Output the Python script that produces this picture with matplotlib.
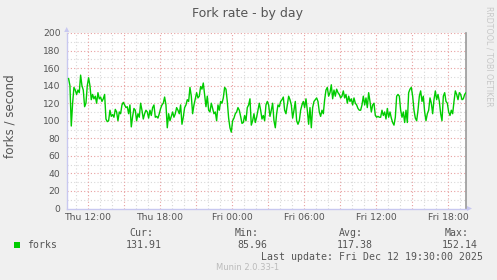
import matplotlib
matplotlib.use("Agg")
import matplotlib.pyplot as plt
import matplotlib.dates as mdates
from matplotlib.patches import Rectangle
from datetime import datetime, timedelta

# ---- data ----
forks_part1 = [148, 140, 94, 120, 138, 135, 130, 135, 132, 152, 140, 135, 116, 120, 140, 149,
               140, 124, 130, 125, 128, 120, 132, 125, 127, 122, 125, 130, 102, 99, 100, 112,
               105, 107, 104, 113, 110, 100, 110, 108, 118, 121, 118, 115, 116, 108, 118, 93,
               105, 114, 112, 100, 108, 104, 120, 112, 102, 108, 112, 110, 103, 112, 106, 115,
               118, 104, 105, 103, 108, 114, 118, 120, 127, 118, 92, 108, 100, 105, 110, 104,
               108, 115, 112, 108, 118, 96, 104, 115, 118, 124, 122, 138, 128, 108, 118, 125,
               132, 126, 128, 139, 136, 143, 130, 116, 128, 112, 110, 120, 114, 108, 110, 100,
               118, 112, 122, 120, 126, 138, 136, 122, 103, 92, 87, 100, 103, 108, 110, 115,
               112, 105, 97, 98, 106, 100, 115, 118, 125]
forks_part2 = [95, 100, 108, 98, 104, 112, 120, 112, 102, 106, 100, 118, 122, 118, 105, 112,
               120, 100, 92, 108, 118, 116, 122, 124, 127, 112, 108, 118, 128, 124, 118, 103,
               112, 122, 100, 96, 100, 112, 118, 122, 115, 125, 112, 96, 115, 92, 115, 122,
               124, 126, 122, 110, 105, 112, 108, 124, 135, 138, 128, 132, 141, 125, 135, 128,
               136, 132, 130, 126, 128, 134, 126, 130, 120, 128, 122, 125, 118, 126, 120, 118,
               114, 112, 112, 118, 128, 118, 126, 115, 132, 122, 110, 118, 120, 106, 104, 105,
               104, 104, 112, 106, 110, 102, 114, 104, 110, 103, 98, 95, 104, 128, 130, 128,
               112, 104, 110, 98, 112, 98, 132, 136, 138, 128, 112, 103, 100, 112, 128, 134,
               122, 128, 110, 100, 108, 112, 126, 120, 108, 124, 134, 124, 130, 122, 108, 100,
               128, 132, 122, 120, 110, 106, 112, 108, 122, 134, 130, 124, 132, 130, 124, 125,
               130, 132]
forks = forks_part1 + forks_part2

last_update = datetime(2025, 12, 12, 19, 30, 0)
step_seconds = 400
times = [last_update - timedelta(seconds=step_seconds * (len(forks) - 1 - i)) for i in range(len(forks))]

y_ticks = [0, 20, 40, 60, 80, 100, 120, 140, 160, 180, 200]
title = "Fork rate - by day"
ylabel = "forks / second"
legend_label = "forks"
stat_names = ["Cur:", "Min:", "Avg:", "Max:"]
stat_values = ["131.91", "85.96", "117.38", "152.14"]

# ---- figure ----
W, H = 497, 280
fig = plt.figure(figsize=(W / 100, H / 100), dpi=100, facecolor="#F0F0F0")
left, right, top, bottom = 66.7, 466, 33, 208.5
ax = fig.add_axes([left / W, 1 - bottom / H, (right - left) / W, (bottom - top) / H])
ax.set_facecolor("white")

TXT = "#555555"
ax.plot(times, forks, color="#00CC00", lw=1.0, zorder=3)

ax.set_xlim(last_update - timedelta(hours=33.27), last_update)
ax.set_ylim(0, 200)

ax.set_yticks(y_ticks)
ax.set_yticks(range(10, 200, 20), minor=True)
ax.xaxis.set_major_locator(mdates.HourLocator(byhour=[0, 6, 12, 18]))
ax.xaxis.set_major_formatter(mdates.DateFormatter("%a %H:%M"))
ax.xaxis.set_minor_locator(mdates.HourLocator())

# grids
ax.grid(False)
for y in range(10, 200, 10):
    major = (y % 20 == 0)
    ax.axhline(y, color="#E8A0A0" if major else "#D8D8D8", lw=0.8,
               ls=(0, (1, 2)), zorder=1)
ax.axhline(200, color="#E8A0A0", lw=0.8, ls=(0, (1, 2)), zorder=1)
t0 = datetime(2025, 12, 11, 11, 0)
t = t0
while t < last_update:
    major = (t.hour % 3 == 0)
    ax.axvline(t, color="#E8A0A0" if major else "#D8D8D8", lw=0.8,
               ls=(0, (1, 2)), zorder=1)
    t += timedelta(hours=1)

for s in ["top"]:
    ax.spines[s].set_visible(False)
ax.spines["right"].set_color("#999999")
ax.spines["right"].set_linewidth(1.2)
ax.spines["left"].set_color("#C8C8F0")
ax.spines["bottom"].set_color("#C8C8F0")
ax.spines["left"].set_linewidth(1.0)
ax.spines["bottom"].set_linewidth(1.0)

ax.tick_params(axis="both", which="both", length=0, colors=TXT)
ax.tick_params(axis="y", labelsize=6.6, pad=4.5)
ax.tick_params(axis="x", labelsize=6.7, pad=3.5)
for lab in ax.get_xticklabels() + ax.get_yticklabels():
    lab.set_color(TXT)

# axis arrows
fig.patches.append(plt.Polygon([[(right + 1) / W, 1 - (bottom - 2.5) / H],
                                [(right + 6) / W, 1 - bottom / H],
                                [(right + 1) / W, 1 - (bottom + 2.5) / H]],
                               closed=True, transform=fig.transFigure,
                               facecolor="#C8C8F0", edgecolor="none"))
fig.patches.append(plt.Polygon([[(left - 2.5) / W, 1 - (top - 1) / H],
                                [left / W, 1 - (top - 6) / H],
                                [(left + 2.5) / W, 1 - (top - 1) / H]],
                               closed=True, transform=fig.transFigure,
                               facecolor="#C8C8F0", edgecolor="none"))

def ftext(x, y, s, **kw):
    fig.text(x / W, 1 - y / H, s, **kw)

ftext(248, 13.3, title, ha="center", va="center", fontsize=9, color=TXT)
ftext(10, 116, ylabel, ha="center", va="center", rotation=90, fontsize=8.6, color=TXT)
ftext(488.5, 56, "RRDTOOL / TOBI OETIKER", ha="center", va="center", rotation=270,
      fontsize=5.7, color="#C8C8C8")

mono = dict(family="DejaVu Sans Mono", fontsize=7.1, color=TXT, va="center")
fig.patches.append(Rectangle((14 / W, 1 - 248 / H), 6 / W, 6 / H, transform=fig.transFigure,
                             facecolor="#00CC00", edgecolor="none"))
ftext(27, 245, legend_label, ha="left", **mono)
name_right = [153, 259, 363, 469]
val_right = [162, 267, 373, 478]
for nm, v, xr1, xr2 in zip(stat_names, stat_values, name_right, val_right):
    ftext(xr1, 233, nm, ha="right", **mono)
    ftext(xr2, 245, v, ha="right", **mono)
ftext(483, 257, "Last update: " + last_update.strftime("%a %b %d %H:%M:%S %Y"), ha="right", **mono)
ftext(248, 268, "Munin 2.0.33-1", ha="center", va="center", fontsize=6, color="#BBBBBB")

fig.savefig("out.png", dpi=100, facecolor=fig.get_facecolor())
